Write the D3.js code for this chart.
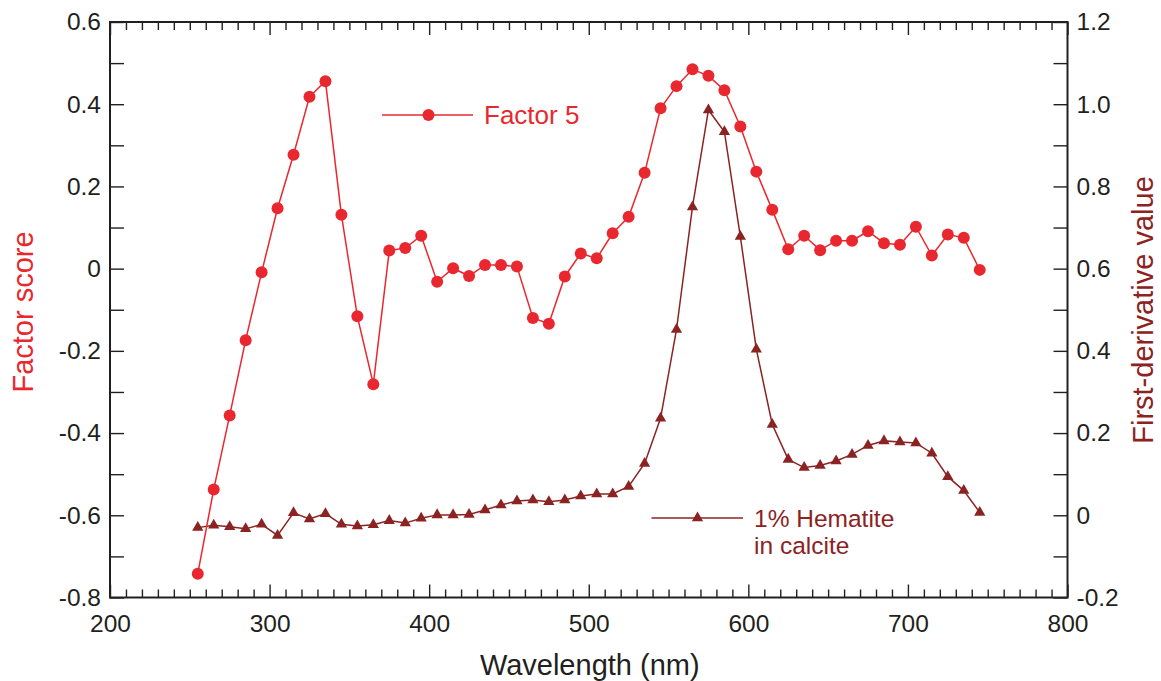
<!DOCTYPE html>
<html>
<head>
<meta charset="utf-8">
<script src="https://cdn.jsdelivr.net/npm/d3@7"></script>
<style>
  html, body { margin: 0; padding: 0; background: #fff; }
  svg { display: block; font-family: "Liberation Sans", Arial, Helvetica, sans-serif; }
</style>
</head>
<body>
<svg id="chart" width="1161" height="681"></svg>
<script>
// Wavelengths sampled every 10 nm
const wavelengths = d3.range(255, 746, 10);

// Factor 5 scores (left axis)
const factor5 = [
  -0.742, -0.537, -0.357, -0.174, -0.009, 0.147, 0.277, 0.418, 0.456, 0.131,
  -0.116, -0.281, 0.044, 0.050, 0.080, -0.032, 0.001, -0.018, 0.009, 0.009,
  0.005, -0.120, -0.134, -0.019, 0.037, 0.025, 0.086, 0.126, 0.233, 0.390,
  0.444, 0.485, 0.469, 0.434, 0.346, 0.236, 0.143, 0.047, 0.080, 0.045,
  0.068, 0.068, 0.091, 0.062, 0.058, 0.102, 0.032, 0.083, 0.075, -0.003
];

// First-derivative spectrum of 1% hematite in calcite (right axis)
const hematite = [
  -0.030, -0.024, -0.028, -0.033, -0.022, -0.049, 0.006, -0.009, 0.004, -0.022,
  -0.026, -0.023, -0.013, -0.019, -0.007, 0.001, 0.001, 0.002, 0.013, 0.025,
  0.035, 0.037, 0.033, 0.037, 0.047, 0.052, 0.052, 0.070, 0.126, 0.236,
  0.452, 0.750, 0.986, 0.933, 0.678, 0.404, 0.221, 0.136, 0.116, 0.121,
  0.132, 0.148, 0.170, 0.181, 0.178, 0.176, 0.151, 0.094, 0.060, 0.007
];

// Axis ticks and their labels
const xTicks = [200, 300, 400, 500, 600, 700, 800];
const xTickLabels = ["200", "300", "400", "500", "600", "700", "800"];
const leftTicks = [0.6, 0.4, 0.2, 0, -0.2, -0.4, -0.6, -0.8];
const leftTickLabels = ["0.6", "0.4", "0.2", "0", "-0.2", "-0.4", "-0.6", "-0.8"];
const rightTicks = [1.2, 1.0, 0.8, 0.6, 0.4, 0.2, 0, -0.2];
const rightTickLabels = ["1.2", "1.0", "0.8", "0.6", "0.4", "0.2", "0", "-0.2"];

const RED = "#e8282e";
const DARK = "#8c2323";
const INK = "#231f20";

const svg = d3.select("#chart");
const m = { left: 110, right: 1067.5, top: 22, bottom: 597.5 };

const x = d3.scaleLinear().domain([200, 800]).range([m.left, m.right]);
const yL = d3.scaleLinear().domain([-0.8, 0.6]).range([m.bottom, m.top]);
const yR = d3.scaleLinear().domain([-0.2, 1.2]).range([m.bottom, m.top]);

const minorX = d3.range(210, 800, 10).filter(v => v % 100 !== 0);
const minorLeft = d3.range(-7, 6, 2).map(v => v / 10);
const minorRight = d3.range(-1, 12, 2).map(v => v / 10);

function styleAxis(g) {
  g.select(".domain").remove();
  g.selectAll(".tick line").attr("stroke", INK).attr("stroke-width", 1.4);
  g.selectAll(".tick text")
    .attr("fill", INK)
    .attr("font-size", 24.5)
    .attr("font-family", "'Liberation Sans', Arial, Helvetica, sans-serif");
}

// Bottom axis: major labelled ticks, minor 10 nm ticks (inward)
svg.append("g").attr("transform", `translate(0,${m.bottom})`)
  .call(d3.axisBottom(x).tickValues(xTicks).tickSize(-13).tickPadding(17)
    .tickFormat((d, i) => xTickLabels[i]))
  .call(styleAxis);
svg.append("g").attr("transform", `translate(0,${m.bottom})`)
  .call(d3.axisBottom(x).tickValues(minorX).tickSize(-8).tickFormat(""))
  .call(styleAxis);

// Top axis: ticks only
svg.append("g").attr("transform", `translate(0,${m.top})`)
  .call(d3.axisTop(x).tickValues(xTicks).tickSize(-13).tickFormat(""))
  .call(styleAxis);
svg.append("g").attr("transform", `translate(0,${m.top})`)
  .call(d3.axisTop(x).tickValues(minorX).tickSize(-8).tickFormat(""))
  .call(styleAxis);

// Left axis (Factor score)
svg.append("g").attr("transform", `translate(${m.left},0)`)
  .call(d3.axisLeft(yL).tickValues(leftTicks).tickSize(-14).tickPadding(9)
    .tickFormat((d, i) => leftTickLabels[i]))
  .call(styleAxis);
svg.append("g").attr("transform", `translate(${m.left},0)`)
  .call(d3.axisLeft(yL).tickValues(minorLeft).tickSize(-14).tickFormat(""))
  .call(styleAxis);

// Right axis (First-derivative value)
svg.append("g").attr("transform", `translate(${m.right},0)`)
  .call(d3.axisRight(yR).tickValues(rightTicks).tickSize(-14).tickPadding(9)
    .tickFormat((d, i) => rightTickLabels[i]))
  .call(styleAxis);
svg.append("g").attr("transform", `translate(${m.right},0)`)
  .call(d3.axisRight(yR).tickValues(minorRight).tickSize(-14).tickFormat(""))
  .call(styleAxis);

// Plot frame
svg.append("rect")
  .attr("x", m.left).attr("y", m.top)
  .attr("width", m.right - m.left).attr("height", m.bottom - m.top)
  .attr("fill", "none").attr("stroke", INK).attr("stroke-width", 2);

// Hematite derivative series
const hemPts = wavelengths.map((w, i) => [x(w), yR(hematite[i])]);
svg.append("path")
  .attr("d", d3.line()(hemPts))
  .attr("fill", "none").attr("stroke", DARK).attr("stroke-width", 1.5);
const tri = d3.symbol().type(d3.symbolTriangle).size(55);
svg.append("g").selectAll("path")
  .data(hemPts).join("path")
  .attr("d", tri)
  .attr("transform", d => `translate(${d[0]},${d[1]})`)
  .attr("fill", DARK);

// Factor 5 series
const facPts = wavelengths.map((w, i) => [x(w), yL(factor5[i])]);
svg.append("path")
  .attr("d", d3.line()(facPts))
  .attr("fill", "none").attr("stroke", RED).attr("stroke-width", 1.5);
svg.append("g").selectAll("circle")
  .data(facPts).join("circle")
  .attr("cx", d => d[0]).attr("cy", d => d[1]).attr("r", 6)
  .attr("fill", RED);

// Legend: Factor 5
const lg1 = svg.append("g");
lg1.append("line").attr("x1", 382).attr("x2", 473).attr("y1", 115).attr("y2", 115)
  .attr("stroke", RED).attr("stroke-width", 1.5);
lg1.append("circle").attr("cx", 428.5).attr("cy", 115).attr("r", 6).attr("fill", RED);
lg1.append("text").attr("x", 484).attr("y", 124)
  .attr("font-size", 26).attr("fill", RED).text("Factor 5");

// Legend: hematite (two-line label)
const lg2 = svg.append("g");
lg2.append("line").attr("x1", 651.5).attr("x2", 743).attr("y1", 518).attr("y2", 518)
  .attr("stroke", DARK).attr("stroke-width", 1.5);
lg2.append("path").attr("d", tri).attr("transform", "translate(697.5,518)").attr("fill", DARK);
lg2.append("text").attr("x", 754).attr("y", 526.5)
  .attr("font-size", 24.5).attr("fill", DARK).text("1% Hematite");
lg2.append("text").attr("x", 754).attr("y", 554)
  .attr("font-size", 24.5).attr("fill", DARK).text("in calcite");

// Axis titles
svg.append("text")
  .attr("x", (m.left + m.right) / 2 + 1).attr("y", 675)
  .attr("text-anchor", "middle").attr("font-size", 29).attr("fill", INK)
  .text("Wavelength (nm)");
svg.append("text")
  .attr("transform", "translate(33,312) rotate(-90)")
  .attr("text-anchor", "middle").attr("font-size", 29).attr("fill", RED)
  .text("Factor score");
svg.append("text")
  .attr("transform", "translate(1153,310) rotate(-90)")
  .attr("text-anchor", "middle").attr("font-size", 29).attr("fill", DARK)
  .text("First-derivative value");
</script>
</body>
</html>
